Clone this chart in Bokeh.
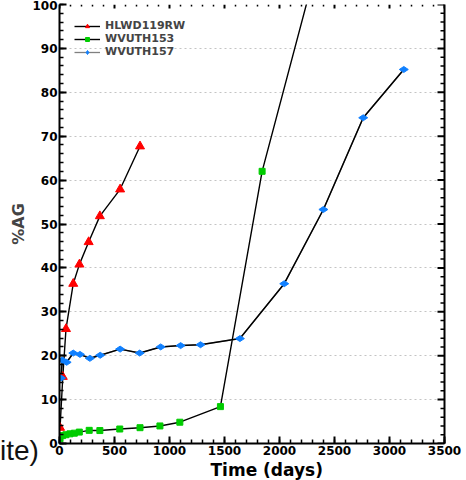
import math
from bokeh.plotting import figure
from bokeh.layouts import column
from bokeh.models import (Range1d, LinearAxis, SingleIntervalTicker, FixedTicker, Grid, Legend,
                          LegendItem, Title, Div)
from bokeh.embed import file_html
from bokeh.resources import INLINE

# ---- data ----
red_x = [5, 30, 59, 125, 181, 265, 367, 551, 732]
red_y = [3.6, 15.2, 26.1, 36.4, 40.8, 45.9, 51.8, 57.9, 67.7]

green_x = [5, 28, 58, 95, 135, 180, 270, 367, 548, 732, 913, 1094, 1463, 1842, 2350]
green_y = [1.1, 1.8, 2.0, 2.2, 2.35, 2.6, 3.0, 2.95, 3.3, 3.6, 4.0, 4.85, 8.4, 62.0, 110.0]

blue_x = [14, 25, 65, 125, 186, 276, 370, 551, 729, 920, 1101, 1282, 1640, 2043, 2399, 2761, 3130]
blue_y = [14.9, 19.0, 18.5, 20.6, 20.3, 19.4, 20.1, 21.5, 20.6, 22.0, 22.3, 22.5, 23.9, 36.4, 53.3, 74.2, 85.2]

series_names = ["HLWD119RW", "WVUTH153", "WVUTH157"]
x_title = "Time (days)"
y_title = "%AG"
stray_text = "ite)"

# tick positions for the unlabeled top and right frame sides
x_major = [0, 500, 1000, 1500, 2000, 2500, 3000, 3500]
x_minor = [100, 200, 300, 400, 600, 700, 800, 900, 1100, 1200, 1300, 1400, 1600, 1700,
           1800, 1900, 2100, 2200, 2300, 2400, 2600, 2700, 2800, 2900, 3100, 3200, 3300, 3400]
y_major = [0, 10, 20, 30, 40, 50, 60, 70, 80, 90, 100]
y_minor = [2, 4, 6, 8, 12, 14, 16, 18, 22, 24, 26, 28, 32, 34, 36, 38, 42, 44, 46, 48,
           52, 54, 56, 58, 62, 64, 66, 68, 72, 74, 76, 78, 82, 84, 86, 88, 92, 94, 96, 98]

FONT = "DejaVu Sans"
X_END = 3500
Y_END = 100

p = figure(width=466, height=480, output_backend="svg", toolbar_location=None,
           x_range=Range1d(0, X_END), y_range=Range1d(0, Y_END),
           x_axis_type=None, y_axis_type=None,
           min_border_left=59, min_border_right=22, min_border_top=4, min_border_bottom=37)
p.outline_line_color = None
p.background_fill_color = "white"
p.border_fill_color = "white"

xt = SingleIntervalTicker(interval=500, num_minor_ticks=5)
yt = SingleIntervalTicker(interval=10, num_minor_ticks=5)


def style_axis(ax):
    ax.major_tick_in = 7
    ax.major_tick_out = 0
    ax.minor_tick_in = 4
    ax.minor_tick_out = 0
    ax.major_tick_line_width = 2
    ax.minor_tick_line_width = 1.5
    ax.axis_line_width = 2
    ax.major_label_text_font = FONT
    ax.major_label_text_font_style = "bold"
    ax.major_label_text_font_size = "12px"
    ax.major_label_text_color = "black"


left = LinearAxis(ticker=yt, axis_label=y_title)
style_axis(left)
left.major_label_standoff = 2
left.axis_label_text_font = FONT
left.axis_label_text_font_style = "bold"
left.axis_label_text_font_size = "16px"
left.axis_label_standoff = 1
p.add_layout(left, "left")

bottom = LinearAxis(ticker=xt)
style_axis(bottom)
bottom.major_label_standoff = 2
p.add_layout(bottom, "below")

# x-axis title, set to the right of centre as in the reference
p.add_layout(Title(text=x_title, align="left", offset=151, standoff=0,
                   text_font=FONT, text_font_style="bold", text_font_size="17px",
                   text_color="black"), "below")

# right side: plain axis line, ticks drawn below as short inward rays
right = LinearAxis(ticker=FixedTicker(ticks=[]))
right.axis_line_width = 2
right.major_tick_line_color = None
right.minor_tick_line_color = None
p.add_layout(right, "right")

p.add_layout(Grid(dimension=1, ticker=yt, grid_line_color="#c4c4c4",
                  grid_line_dash="2 3", grid_line_width=1))

# inward ticks on right and top sides
p.ray(x=[X_END] * len(y_major), y=y_major, length=7, length_units="screen", angle=math.pi,
      line_color="black", line_width=2)
p.ray(x=[X_END] * len(y_minor), y=y_minor, length=4, length_units="screen", angle=math.pi,
      line_color="black", line_width=1.5)
p.ray(x=x_major, y=[Y_END] * len(x_major), length=4, length_units="screen", angle=-math.pi / 2,
      line_color="black", line_width=2)
p.ray(x=x_minor, y=[Y_END] * len(x_minor), length=2, length_units="screen", angle=-math.pi / 2,
      line_color="black", line_width=1.5)

# ---- series ----
lr = p.line(red_x, red_y, line_color="black", line_width=1.4)
lg = p.line(green_x, green_y, line_color="black", line_width=1.4)
lb_leg = p.line(blue_x, blue_y, line_color="#808080", line_width=1.3)  # grey legend line, hidden under black
lb = p.line(blue_x, blue_y, line_color="black", line_width=1.5)
sr = p.scatter(red_x, red_y, marker="triangle", size=9, fill_color="#ff0000", line_color="#ff0000")
sg = p.scatter(green_x, green_y, marker="square", size=6, fill_color="#00cc00", line_color="#00cc00")
sb = p.scatter(blue_x, blue_y, marker="diamond", size=9, angle=math.pi / 2,
               fill_color="#1080ff", line_color="#1080ff")

legend = Legend(items=[LegendItem(label=series_names[0], renderers=[lr, sr]),
                       LegendItem(label=series_names[1], renderers=[lg, sg]),
                       LegendItem(label=series_names[2], renderers=[lb_leg, sb])],
                location="top_left")
legend.margin = 15
legend.padding = 0
legend.spacing = 0
legend.label_height = 10
legend.glyph_height = 10
legend.glyph_width = 26
legend.label_standoff = 5
legend.label_text_font = FONT
legend.label_text_font_style = "bold"
legend.label_text_font_size = "11px"
legend.label_text_line_height = 0.9
legend.background_fill_alpha = 0
legend.border_line_alpha = 0
p.add_layout(legend)

# stray text fragment at bottom-left, overlapping the figure's lower border
stray = Div(text=stray_text, width=60, height=32, margin=(-43, 0, 0, 0),
            styles={"font-family": "Liberation Sans", "font-size": "28px",
                    "line-height": "1", "color": "#111111"})

layout = column(p, stray, spacing=0)

open("out.html", "w").write(file_html(layout, INLINE))
